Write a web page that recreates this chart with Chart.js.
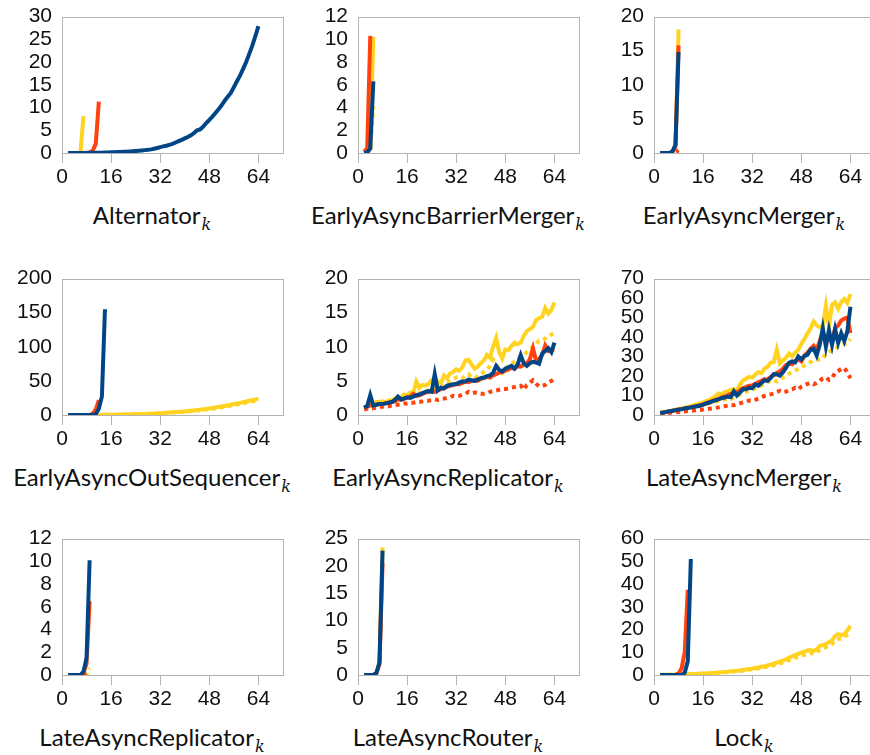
<!DOCTYPE html>
<html>
<head>
<meta charset="utf-8">
<script src="https://cdn.jsdelivr.net/npm/chart.js@4/dist/chart.umd.min.js"></script>
<style>
  html, body { margin: 0; padding: 0; background: #fff; overflow: hidden; }
  body { position: relative; width: 870px; height: 755px; }
  canvas { position: absolute; }
  .ttl { position: absolute; transform: translate(-50%, -50%); white-space: nowrap;
         font-family: Lato, sans-serif; font-size: 24px; color: #111; }
  .ttl i { font-family: "DejaVu Serif", serif; font-size: 16px; position: relative; top: 6px; margin-left: 1px; }
</style>
</head>
<body>
<script>
// k values on the x axis
const ks = [2,3,4,5,6,7,8,9,10,11,12,13,14,15,16,17,18,19,20,21,22,23,24,25,26,27,28,29,30,31,32,33,
  34,35,36,37,38,39,40,41,42,43,44,45,46,47,48,49,50,51,52,53,54,55,56,57,58,59,60,61,62,63,64];

const titles = ['Alternator', 'EarlyAsyncBarrierMerger', 'EarlyAsyncMerger',
  'EarlyAsyncOutSequencer', 'EarlyAsyncReplicator', 'LateAsyncMerger',
  'LateAsyncReplicator', 'LateAsyncRouter', 'Lock'];
const yMax = [30, 12, 20, 200, 20, 70, 12, 25, 60];
const yStep = [5, 2, 5, 50, 5, 10, 2, 5, 10];
const xTicks = [0, 16, 32, 48, 64];

// Alternator
const altBlue = [0,0,0,0,0,0.01,0.02,0.03,0.04,0.05,
  0.06,0.08,0.1,0.12,0.14,0.17,0.2,0.23,0.27,0.3,
  0.35,0.4,0.45,0.5,0.56,0.63,0.7,0.8,0.95,1.1,
  1.3,1.45,1.6,1.8,2.0,2.3,2.6,2.9,3.2,3.5,
  3.9,4.4,5.0,5.2,5.8,6.6,7.3,8.0,8.8,9.6,
  10.5,11.5,12.4,13.2,14.5,15.8,17.0,18.5,20.0,21.8,
  23.6,25.7,27.9];
const altRed = [0,0,0,0,0,0,0.05,0.1,0.5,2.0,11.3];
const altYellow = [0,0,0,0,0.1,8.1];

// EarlyAsyncBarrierMerger
const eabmBlue = [0,0.05,0.4,6.3];
const eabmRed = [0.1,0.4,10.3];
const eabmYellow = [0,0,0.5,10.2];
const eabmYellowDot = [0,0,0.3,4.1];

// EarlyAsyncMerger
const eamBlue = [0,0,0,0,0.2,1.2,14.8];
const eamRed = [0,0,0,0,0.2,1.0,15.8];
const eamRedDot = [0,0,0,0,0,0.1,0.4];
const eamYellow = [0,0,0,0,0.2,1.0,18.1];

// EarlyAsyncOutSequencer
const eaosBlue = [0,0,0,0,0,0,0,0,0.3,1.2,9,27,155];
const eaosRed = [0,0,0,0,0,0,0,0,2,8,22];
const eaosYellow = [0,0,0,0,0,0,0.05,0.05,0.1,0.1,0.15,0.2,0.25,0.3,0.35,0.4,0.5,0.6,0.7,
  0.8,0.9,1.0,1.1,1.3,1.4,1.6,1.8,2.0,2.2,2.4,2.7,3.0,3.3,3.6,3.9,
  4.2,4.6,4.9,5.2,5.7,6.2,6.7,7.2,7.8,8.3,8.9,9.5,
  10.2,10.9,11.7,12.5,13.3,14.2,15.1,16.0,
  16.9,17.8,18.8,19.8,20.8,21.8,22.9,24.0];
const eaosYellowDot = [0,0,0,0,0,0,0.05,0.05,0.1,0.1,0.1,0.15,0.2,0.25,0.3,0.35,0.4,0.5,0.6,
  0.7,0.8,0.9,1.0,1.1,1.2,1.4,1.6,1.8,2.0,2.2,2.4,2.7,3.0,3.3,3.6,
  3.9,4.2,4.5,4.8,5.2,5.6,6.1,6.6,7.1,7.6,8.2,8.7,
  9.3,10.0,10.7,11.4,12.1,12.9,13.8,14.7,
  15.5,16.3,17.2,18.1,19.0,19.9,20.8,21.8];

// EarlyAsyncReplicator
const earBlue = [1.1,1.3,2.9,1.4,1.5,1.6,1.6,1.7,1.8,1.9,
  2.2,2.7,2.3,2.4,2.6,2.5,2.7,2.9,3.0,3.2,
  3.4,3.5,3.4,6.0,3.6,4.0,3.9,4.3,4.4,4.5,
  4.5,4.8,4.9,4.9,5.2,5.1,5.0,5.2,5.4,5.5,
  5.7,5.8,6.2,7.2,6.6,6.4,6.8,7.0,7.2,6.8,
  7.4,8.8,7.6,7.2,7.6,7.8,7.7,7.5,9.0,9.4,
  9.8,9.2,10.6];
const earRed = [1.0,1.2,1.4,1.4,1.5,1.6,1.6,1.7,1.8,1.9,
  2.0,2.3,2.2,2.4,2.5,2.7,3.1,2.8,2.9,3.1,
  3.3,3.4,3.5,3.4,3.6,3.8,3.9,4.1,4.3,4.4,
  4.6,4.5,4.7,4.9,4.8,5.0,5.1,5.0,5.3,5.4,
  5.6,5.5,5.8,6.0,6.2,6.3,6.5,6.7,6.9,6.8,
  7.2,7.1,7.4,7.6,8.2,9.8,8.0,8.2,8.8,10.2,
  9.4,9.6,9.6];
const earRedDot = [0.8,0.9,1.0,1.0,1.1,1.2,1.2,1.3,1.3,1.4,
  1.5,1.5,1.6,1.7,1.7,1.8,1.8,1.9,1.9,2.0,
  2.1,2.1,2.2,2.3,2.2,2.3,2.4,2.5,2.6,2.8,
  2.7,2.8,3.0,3.1,3.4,3.2,3.3,3.2,3.1,3.1,
  3.2,3.4,3.5,3.6,3.7,3.8,3.8,3.9,4.0,4.1,
  4.2,4.3,3.7,4.4,4.7,5.1,4.6,4.2,4.3,4.4,
  4.8,5.0,5.3];
const earYellow = [1.1,1.3,1.5,1.7,1.9,1.9,2.0,1.9,2.1,2.2,
  2.4,2.6,2.5,3.0,2.9,3.3,3.2,4.9,4.0,4.4,
  4.3,4.6,5.1,4.8,4.9,4.6,5.8,5.4,6.1,6.3,
  6.7,6.5,7.0,8.0,8.1,7.4,6.8,7.1,7.6,8.0,
  8.8,8.4,10.0,11.3,9.2,8.3,9.6,9.5,10.1,10.6,
  10.4,10.6,11.6,12.3,12.6,12.9,13.9,14.2,14.4,15.7,
  14.9,15.4,16.5];
const earYellowDot = [1.0,1.2,1.3,1.5,1.6,1.7,1.8,1.9,2.0,2.0,
  2.1,2.3,2.4,2.5,2.6,2.8,2.9,3.0,3.2,3.3,
  3.5,3.6,3.7,3.8,4.0,4.1,4.2,4.6,5.0,5.3,
  5.5,5.6,5.4,5.8,6.0,5.6,5.4,5.7,6.0,6.3,
  6.6,7.2,8.1,7.4,6.6,6.2,6.8,7.2,7.5,7.8,
  8.2,8.6,8.8,9.2,9.6,10.0,10.4,10.9,11.0,11.2,
  11.6,11.8,12.1];

// LateAsyncMerger
const lamBlue = [1.1,1.3,1.6,1.9,2.2,2.5,2.8,3.0,3.3,3.6,
  3.9,4.2,4.5,4.7,5.3,5.9,6.4,7.0,7.5,8.0,
  8.6,9.0,9.4,9.2,12.2,10.0,11.5,13.2,13.2,14.0,
  13.8,15.6,15.0,16.4,17.8,17.5,19.0,21.0,20.8,20.2,
  22.0,24.2,26.8,27.5,27.0,30.0,28.5,30.2,31.0,33.5,
  34.0,30.5,36.0,44.5,35.0,43.5,36.0,44.0,37.0,42.0,
  38.0,43.0,55.5];
const lamRed = [1.0,1.2,1.5,1.8,2.1,2.4,2.7,3.0,3.3,3.6,
  3.9,4.2,4.6,5.0,5.4,6.0,6.6,7.2,7.8,8.3,
  8.9,9.5,10.2,10.8,11.0,11.8,12.6,13.8,14.4,15.0,
  15.2,16.0,16.8,17.6,18.4,18.0,19.6,20.4,21.6,22.4,
  23.8,25.6,26.4,26.0,27.8,28.6,27.5,30.5,32.0,34.0,
  35.5,33.5,38.0,42.5,38.5,40.5,38.0,44.5,46.0,48.5,
  49.5,50.0,42.0];
const lamRedDot = [0.7,0.8,1.0,1.1,1.2,1.4,1.5,1.7,1.8,2.0,
  2.1,2.3,2.5,2.6,2.8,3.0,3.2,3.4,3.6,3.9,
  4.2,4.5,4.8,5.2,5.0,5.6,6.0,6.5,6.8,7.4,
  7.2,7.8,8.4,9.0,9.8,10.2,10.6,11.0,11.8,12.4,
  11.6,12.0,12.8,13.2,14.0,13.2,14.6,15.4,16.0,16.6,
  15.8,16.4,17.6,18.8,19.4,18.0,18.8,21.6,22.6,23.6,
  24.2,21.8,18.8];
const lamYellow = [1.1,1.4,1.7,2.0,2.3,2.7,3.0,3.3,3.7,4.1,
  4.5,5.0,5.5,6.0,6.4,7.1,7.8,8.6,9.6,11.0,
  10.6,11.8,12.2,12.8,13.4,12.6,15.6,17.8,18.6,19.6,
  19.2,20.8,22.0,21.5,23.8,24.8,26.8,27.2,33.6,26.5,
  28.0,29.4,31.5,30.2,32.0,33.5,36.5,39.0,41.8,44.5,
  48.0,46.0,45.0,45.8,56.0,45.5,56.5,57.8,54.5,58.0,
  59.5,57.5,62.0];
const lamYellowDot = [1.0,1.2,1.5,1.8,2.1,2.4,2.7,3.0,3.3,3.6,
  3.9,4.2,4.5,4.8,5.2,5.6,6.0,6.4,6.8,7.2,
  7.6,8.0,8.4,8.2,9.0,9.6,10.4,11.2,12.0,12.4,
  13.0,13.6,14.4,15.2,16.0,16.8,17.6,18.0,17.2,18.4,
  19.2,20.0,21.2,22.0,22.8,23.6,24.4,25.4,26.4,27.2,
  28.0,28.6,28.4,29.0,31.5,32.6,33.0,33.8,35.0,35.5,
  36.4,37.0,39.0];

// LateAsyncReplicator
const larBlue = [0,0,0,0,0,0.3,1.5,10.1];
const larRed = [0,0,0,0,0,0.2,1.0,6.5];
const larRedDot = [0,0,0,0,0,0,0.1];
const larYellowDot = [0,0,0,0,0,0,0.1,0.6];

// LateAsyncRouter
const lrtBlue = [0,0,0,0,0.4,2.3,22.8];
const lrtRed = [0,0,0,0,0.3,2.0,20.5];
const lrtRedDot = [0,0,0,0,0.1,0.4];
const lrtYellow = [0,0,0,0,0.4,2.4,23.4];

// Lock
const lockBlue = [0,0,0,0,0,0,0,0,1.0,6.0,51];
const lockRed = [0,0,0,0,0,0,0.8,3.0,10.0,37.5];
const lockYellow = [0.05,0.08,0.1,0.12,0.15,0.18,0.2,0.25,0.3,0.35,
  0.4,0.45,0.5,0.6,0.7,0.75,0.8,0.9,1.0,1.1,
  1.2,1.3,1.45,1.6,1.7,1.9,2.0,2.2,2.4,2.6,
  2.8,3.1,3.3,3.6,3.9,4.2,4.6,5.0,5.4,5.9,
  6.3,6.9,7.6,8.2,8.8,9.3,9.8,10.3,10.8,11.0,
  10.6,11.2,12.8,13.2,13.6,14.4,15.2,17.2,18.0,17.6,
  17.8,19.6,21.6];
const lockYellowDot = [0.05,0.07,0.09,0.1,0.12,0.15,0.18,0.2,0.25,0.3,
  0.35,0.4,0.45,0.5,0.6,0.65,0.7,0.8,0.9,1.0,
  1.1,1.2,1.3,1.4,1.5,1.7,1.8,2.0,2.2,2.3,
  2.5,2.7,2.9,3.2,3.4,3.7,4.0,4.3,4.7,5.1,
  5.5,6.0,6.5,7.0,7.5,8.0,8.5,8.9,9.3,9.6,
  9.4,10.0,11.0,11.6,12.2,13.0,13.6,15.0,15.8,16.0,
  16.6,17.8,19.0];

const BLUE = '#004586', RED = '#ff420e', YELLOW = '#ffd320', GRID = '#b3b3b3';

// series per panel, first one is drawn on top
const panelSeries = [
  [[altBlue, BLUE], [altRed, RED], [altYellow, YELLOW]],
  [[eabmBlue, BLUE], [eabmRed, RED], [eabmYellow, YELLOW], [eabmYellowDot, YELLOW, true]],
  [[eamBlue, BLUE], [eamRed, RED], [eamRedDot, RED, true], [eamYellow, YELLOW]],
  [[eaosBlue, BLUE], [eaosRed, RED], [eaosYellow, YELLOW], [eaosYellowDot, YELLOW, true]],
  [[earBlue, BLUE], [earRed, RED], [earRedDot, RED, true], [earYellow, YELLOW], [earYellowDot, YELLOW, true]],
  [[lamBlue, BLUE], [lamRed, RED], [lamRedDot, RED, true], [lamYellow, YELLOW], [lamYellowDot, YELLOW, true]],
  [[larBlue, BLUE], [larRed, RED], [larRedDot, RED, true], [larYellowDot, YELLOW, true]],
  [[lrtBlue, BLUE], [lrtRed, RED], [lrtRedDot, RED, true], [lrtYellow, YELLOW]],
  [[lockBlue, BLUE], [lockRed, RED], [lockYellow, YELLOW], [lockYellowDot, YELLOW, true]]
];

const plotLeft = [62, 358, 654];
const plotTop = [8, 270, 530];
const PW = 221, PH = 145, PAD_T = 14, PAD_R = 8, AXIS_W = 62, AXIS_H = 44;

// frame round the plot area
const frame = {
  id: 'frame',
  beforeDatasetsDraw(chart) {
    const a = chart.chartArea, c = chart.ctx;
    c.save();
    c.strokeStyle = GRID;
    c.lineWidth = 1;
    c.strokeRect(Math.round(a.left) + 0.5, Math.round(a.top) + 0.5,
      Math.round(a.right - a.left), Math.round(a.bottom - a.top));
    c.restore();
  }
};

Chart.defaults.font.family = '"Liberation Sans", Arial, sans-serif';
Chart.defaults.font.size = 21;
Chart.defaults.color = '#111';

panelSeries.forEach((series, i) => {
  const col = i % 3, row = Math.floor(i / 3);
  const left = plotLeft[col], top = plotTop[row];

  const cv = document.createElement('canvas');
  const w = AXIS_W + PW + PAD_R, h = PAD_T + PH + AXIS_H;
  cv.width = w; cv.height = h;
  cv.style.left = (left - AXIS_W) + 'px';
  cv.style.top = (top - PAD_T) + 'px';
  cv.style.width = w + 'px';
  cv.style.height = h + 'px';
  document.body.appendChild(cv);

  // axis title sits centred under the whole panel, not just the plot
  const t = document.createElement('div');
  t.className = 'ttl';
  t.style.left = (left + 90) + 'px';
  t.style.top = (top + PH + 61) + 'px';
  t.innerHTML = titles[i] + '<i>k</i>';
  document.body.appendChild(t);

  new Chart(cv, {
    type: 'line',
    data: {
      datasets: series.map(([vals, color, dotted]) => ({
        data: vals.map((v, j) => ({ x: ks[j], y: v })),
        borderColor: color,
        borderWidth: 4,
        borderDash: dotted ? [4, 4] : [],
        pointRadius: 0,
        tension: 0,
        fill: false
      }))
    },
    options: {
      responsive: false,
      animation: false,
      devicePixelRatio: 1,
      layout: { padding: { top: PAD_T, right: PAD_R, left: 0, bottom: 0 } },
      plugins: { legend: { display: false }, tooltip: { enabled: false } },
      scales: {
        x: {
          type: 'linear', min: 0, max: 72,
          afterBuildTicks: s => { s.ticks = xTicks.map(v => ({ value: v })); },
          ticks: { padding: 2, maxRotation: 0, autoSkip: false },
          grid: { drawOnChartArea: false, drawTicks: true, tickLength: 10, color: GRID },
          border: { display: false },
          afterFit: s => { s.height = AXIS_H; }
        },
        y: {
          min: 0, max: yMax[i],
          ticks: { stepSize: yStep[i], padding: 10, autoSkip: false },
          grid: { display: false, drawTicks: false },
          border: { display: false },
          afterFit: s => { s.width = AXIS_W; }
        }
      }
    },
    plugins: [frame]
  });
});
</script>
</body>
</html>
